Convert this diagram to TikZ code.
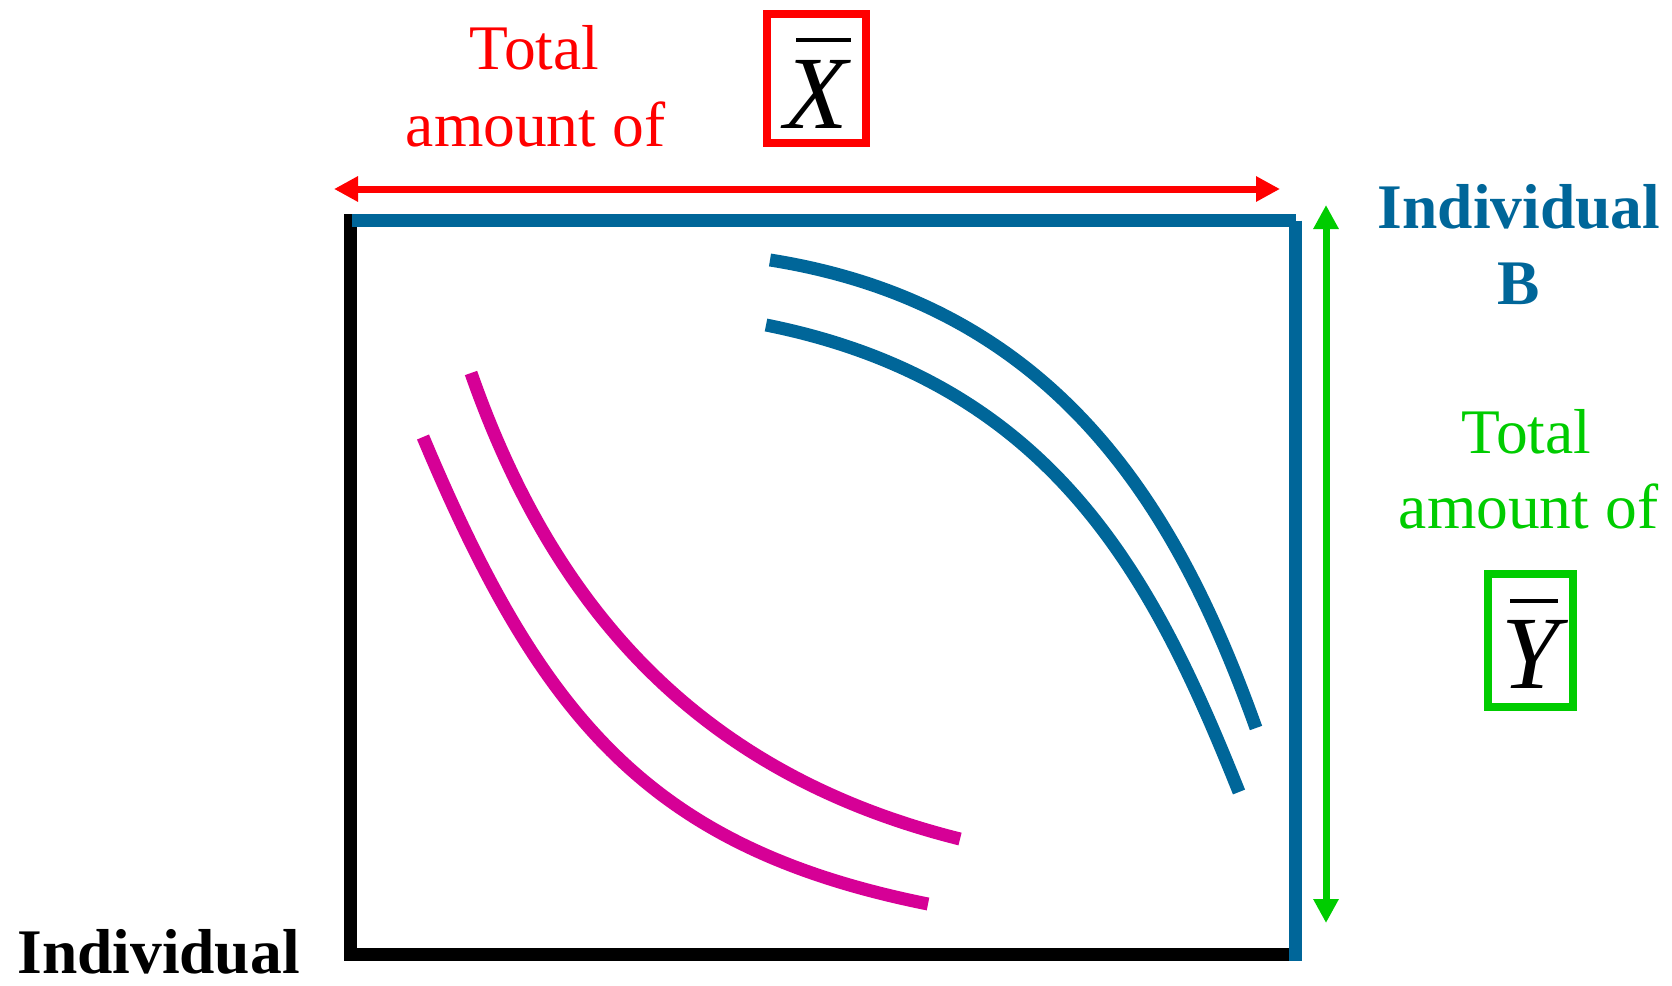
\documentclass[tikz,border=0pt]{standalone}
\usepackage{fontspec}
\setmainfont{Liberation Serif}
\usetikzlibrary{arrows.meta}
\definecolor{redc}{RGB}{255,0,0}
\definecolor{bluec}{RGB}{0,102,153}
\definecolor{greenc}{RGB}{0,204,0}
\definecolor{magc}{RGB}{214,0,150}
\begin{document}
\begin{tikzpicture}[x=1pt,y=-1pt,
  lbl/.style={font=\fontsize{63.5}{76}\selectfont, inner sep=0pt, anchor=base},
  blbl/.style={font=\fontsize{63.5}{76}\selectfont\bfseries, inner sep=0pt, anchor=base},
  varlbl/.style={font=\fontsize{104}{110}\selectfont\itshape, inner sep=0pt, anchor=base},
  framebox/.style={draw, line width=8pt, inner sep=0pt},
  edge/.style={line width=13pt, line cap=butt},
  curve/.style={line width=13pt, line cap=butt},
  dim/.style={line width=7pt, {Triangle[length=24pt,width=24pt]}-{Triangle[length=24pt,width=24pt]}},
  bar/.style={line width=4pt, black}
]
\useasboundingbox (0,0) rectangle (1672,985);

% frame corners
\coordinate (tl) at (350.5,220.5);
\coordinate (tr) at (1295.5,220.5);
\coordinate (bl) at (350.5,954);
\coordinate (br) at (1295.5,954);
\coordinate (tlb) at (350.5,214);
\coordinate (blb) at (350.5,961);
\coordinate (brb) at (1295.5,961);

\draw[edge, black] (tlb) -- (blb);
\draw[edge, black] ([xshift=-6pt]bl) -- (br);
\draw[edge, bluec] ([xshift=1pt]tl) -- (tr);
\draw[edge, bluec] (tr) -- (brb);

% dimension arrows
\coordinate (ra) at (334,189);
\coordinate (rb) at (1280,189);
\draw[dim, redc] (ra) -- (rb);
\coordinate (ga) at (1326,205);
\coordinate (gb) at (1326,923);
\draw[dim, greenc] (ga) -- (gb);

% blue curves (individual B)
\coordinate (bo1) at (770,260);
\coordinate (bo2) at (1256,728);
\draw[curve, bluec] (bo1) .. controls (1060,306) and (1179,513) .. (bo2);
\coordinate (bi1) at (766,325);
\coordinate (bi2) at (1239,792);
\draw[curve, bluec] (bi1) .. controls (1056,383) and (1155,582) .. (bi2);

% magenta curves (individual A)
\coordinate (mo1) at (423,437);
\coordinate (mo2) at (928,904);
\draw[curve, magc] (mo1) .. controls (541,718) and (649,848) .. (mo2);
\coordinate (mi1) at (471,373);
\coordinate (mi2) at (960,839);
\draw[curve, magc] (mi1) .. controls (554,610) and (700,774) .. (mi2);

% texts
\node[lbl, text=redc] (rt1) at (534.5,69) {Total};
\node[lbl, text=redc] (rt2) at (535.5,146) {amount of};
\node[framebox, draw=redc, minimum width=99pt, minimum height=129pt] (xbox) at (816.5,78.5) {};
\node[varlbl] (xv) at (816,128) {X};
\draw[bar] (796,40) -- (851,40);

\node[blbl, text=bluec] (b1) at (1519,228) {Individual};
\node[blbl, text=bluec] (b2) at (1518.5,304) {B};

\node[lbl, text=greenc] (gt1) at (1526.5,453) {Total};
\node[lbl, text=greenc] (gt2) at (1528.5,528) {amount of};
\node[framebox, draw=greenc, minimum width=85pt, minimum height=133pt] (ybox) at (1530.5,640.5) {};
\node[varlbl] (yv) at (1530,688) {Y};
\draw[bar] (1510,601) -- (1558,601);

\node[blbl, text=black] (a1) at (158.5,973) {Individual};
\end{tikzpicture}
\end{document}
